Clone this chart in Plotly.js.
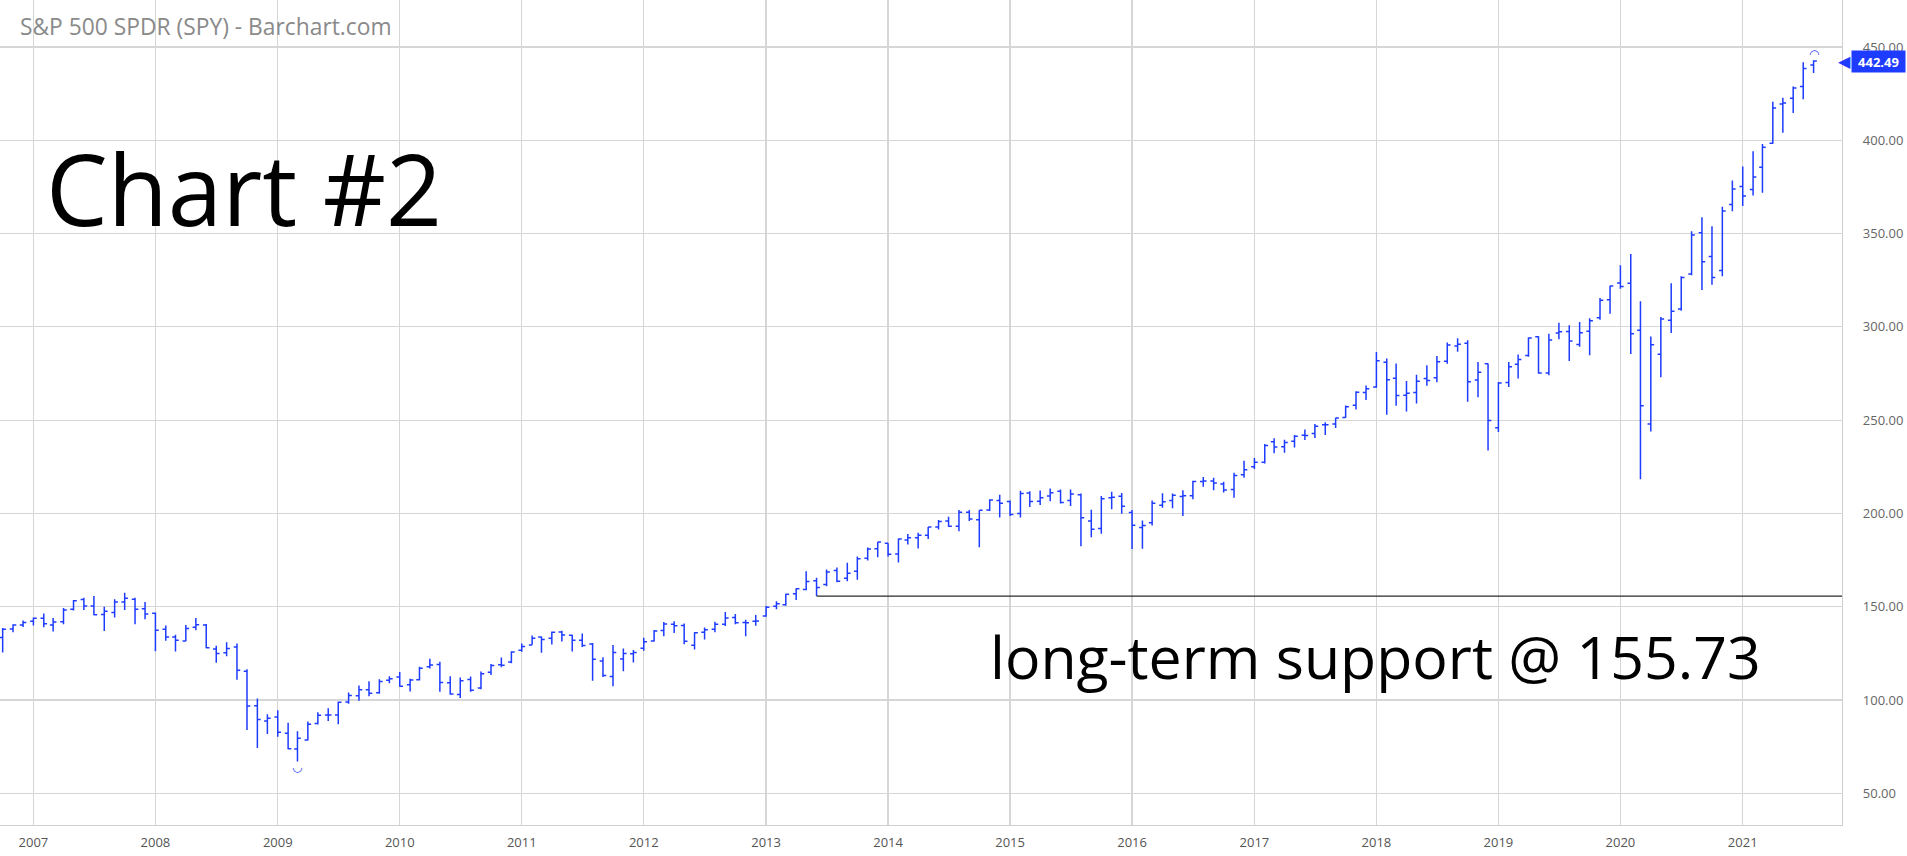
<!DOCTYPE html>
<html>
<head>
<meta charset="utf-8">
<script src="https://cdn.plot.ly/plotly-3.0.1.min.js"></script>
<style>
  html, body { margin: 0; padding: 0; background: #fff; }
  #chart { width: 1907px; height: 856px; }
</style>
</head>
<body>
<div id="chart"></div>
<script>
// ---- Data: SPY monthly bars, Oct 2006 - Aug 2021 ----
const months = [
  "2006-10","2006-11","2006-12",
  "2007-01","2007-02","2007-03","2007-04","2007-05","2007-06","2007-07","2007-08","2007-09","2007-10","2007-11","2007-12",
  "2008-01","2008-02","2008-03","2008-04","2008-05","2008-06","2008-07","2008-08","2008-09","2008-10","2008-11","2008-12",
  "2009-01","2009-02","2009-03","2009-04","2009-05","2009-06","2009-07","2009-08","2009-09","2009-10","2009-11","2009-12",
  "2010-01","2010-02","2010-03","2010-04","2010-05","2010-06","2010-07","2010-08","2010-09","2010-10","2010-11","2010-12",
  "2011-01","2011-02","2011-03","2011-04","2011-05","2011-06","2011-07","2011-08","2011-09","2011-10","2011-11","2011-12",
  "2012-01","2012-02","2012-03","2012-04","2012-05","2012-06","2012-07","2012-08","2012-09","2012-10","2012-11","2012-12",
  "2013-01","2013-02","2013-03","2013-04","2013-05","2013-06","2013-07","2013-08","2013-09","2013-10","2013-11","2013-12",
  "2014-01","2014-02","2014-03","2014-04","2014-05","2014-06","2014-07","2014-08","2014-09","2014-10","2014-11","2014-12",
  "2015-01","2015-02","2015-03","2015-04","2015-05","2015-06","2015-07","2015-08","2015-09","2015-10","2015-11","2015-12",
  "2016-01","2016-02","2016-03","2016-04","2016-05","2016-06","2016-07","2016-08","2016-09","2016-10","2016-11","2016-12",
  "2017-01","2017-02","2017-03","2017-04","2017-05","2017-06","2017-07","2017-08","2017-09","2017-10","2017-11","2017-12",
  "2018-01","2018-02","2018-03","2018-04","2018-05","2018-06","2018-07","2018-08","2018-09","2018-10","2018-11","2018-12",
  "2019-01","2019-02","2019-03","2019-04","2019-05","2019-06","2019-07","2019-08","2019-09","2019-10","2019-11","2019-12",
  "2020-01","2020-02","2020-03","2020-04","2020-05","2020-06","2020-07","2020-08","2020-09","2020-10","2020-11","2020-12",
  "2021-01","2021-02","2021-03","2021-04","2021-05","2021-06","2021-07","2021-08"
];
const open = [
  133.6,138.1,140.2,
  142.2,143.9,140.3,142.0,148.7,153.9,150.4,145.9,147.0,152.6,154.1,148.9,
  146.5,138.0,133.8,131.7,139.0,140.2,127.4,125.4,128.5,115.5,96.9,88.8,
  90.9,82.2,73.8,78.6,87.5,92.0,92.0,99.0,102.3,105.6,103.9,110.6,
  112.4,108.2,110.9,117.8,119.1,109.3,103.0,111.0,106.5,114.9,119.0,120.4,
  126.7,129.5,133.8,133.1,136.5,134.8,132.1,130.0,121.0,112.7,122.0,124.8,
  127.8,131.7,137.3,140.6,140.0,129.4,136.4,138.0,140.6,144.2,141.6,142.3,
  145.1,150.3,151.1,157.0,159.3,164.0,161.9,169.4,165.3,169.0,176.0,181.1,
  184.0,178.3,185.8,187.0,188.4,192.8,196.0,193.1,200.6,196.7,201.9,207.0,
  206.4,200.0,211.0,206.6,209.4,211.9,207.0,210.0,196.0,192.0,208.4,209.3,
  200.5,192.5,195.0,204.4,206.9,209.1,209.5,217.2,217.4,215.8,212.9,220.7,
  225.0,227.5,238.4,235.8,238.7,241.9,242.9,247.5,247.9,251.5,258.0,264.8,
  267.8,281.1,272.5,263.4,264.8,272.4,272.8,281.6,289.8,291.2,271.6,280.3,
  246.0,270.2,280.0,284.7,294.7,275.3,296.7,297.6,290.6,297.7,304.9,314.6,
  323.5,323.4,298.2,248.0,285.3,303.6,309.6,328.3,350.4,337.7,330.2,365.6,
  375.3,373.7,385.6,398.4,419.4,422.6,428.9,440.3
];
const high = [
  138.6,140.6,142.7,
  144.2,146.4,144.0,149.3,153.6,154.9,155.8,150.0,154.0,157.5,154.8,152.5,
  147.0,140.0,135.0,140.2,144.0,140.8,129.1,131.0,130.3,116.5,100.9,92.4,
  94.5,87.8,83.3,88.5,93.5,95.6,99.2,104.0,107.8,110.1,111.2,112.8,
  115.1,111.4,117.9,122.1,120.5,112.8,112.1,112.7,115.3,119.4,122.8,126.2,
  130.3,134.6,134.1,136.8,137.2,135.0,135.7,130.6,123.0,129.5,127.6,126.9,
  133.4,137.5,141.8,142.2,141.0,136.3,138.9,142.0,147.2,146.1,143.0,145.6,
  150.4,152.9,157.0,160.0,169.1,165.5,170.0,171.0,173.6,176.9,181.8,184.7,
  184.1,186.6,189.0,189.7,192.8,196.5,198.3,201.9,201.9,201.8,207.6,210.0,
  206.9,212.2,211.9,212.3,213.4,212.8,212.9,210.7,202.0,209.4,211.6,211.0,
  201.9,196.2,206.9,210.9,210.7,212.5,217.5,219.6,219.2,217.0,221.8,228.3,
  229.7,237.3,240.3,239.5,242.1,245.0,248.0,248.9,251.3,257.9,265.5,268.6,
  286.6,283.1,280.4,271.0,274.3,279.5,284.4,291.7,293.9,292.9,281.2,280.4,
  270.5,281.2,285.2,294.5,295.0,296.3,302.2,300.9,302.6,304.6,315.5,322.1,
  333.0,339.1,313.8,294.9,305.3,323.4,327.2,351.3,358.8,354.0,364.4,378.5,
  385.9,394.2,398.0,420.7,422.8,428.8,441.8,442.9
];
const low = [
  125.5,136.4,139.2,
  140.0,139.0,136.8,140.7,148.0,148.3,145.5,137.0,144.3,148.3,140.6,143.3,
  126.2,131.8,126.1,131.5,137.4,127.8,120.0,123.5,110.9,84.0,74.3,81.8,
  80.3,73.6,67.1,78.3,86.9,88.8,87.0,98.0,99.6,102.1,103.4,109.0,
  107.2,104.6,110.5,116.9,104.4,102.9,101.1,104.4,105.8,113.5,117.6,119.7,
  125.9,129.7,125.3,129.8,131.4,126.0,128.5,110.3,112.4,107.4,115.5,120.2,
  126.4,131.4,134.2,135.9,129.9,127.1,132.4,136.4,139.7,140.6,134.2,139.8,
  144.7,148.7,150.6,153.6,158.9,155.73,161.0,163.1,163.7,164.5,174.8,176.6,
  176.9,173.7,183.4,181.3,186.3,191.4,192.9,190.5,196.0,181.9,201.4,197.9,
  198.6,197.9,203.5,204.5,206.6,205.3,204.0,182.4,187.3,189.1,202.3,199.8,
  181.0,181.1,193.5,203.1,202.8,198.7,207.6,214.3,212.4,211.2,208.4,219.2,
  223.9,226.8,232.3,232.5,235.4,239.4,240.5,242.0,245.8,251.3,255.7,260.8,
  267.4,252.9,257.8,254.7,259.0,268.5,270.3,280.3,286.7,259.9,262.3,233.8,
  243.7,267.8,272.4,284.0,274.9,274.1,293.4,281.7,289.3,284.8,303.9,307.1,
  320.4,285.5,218.3,243.9,273.0,296.7,308.6,327.7,319.8,322.6,327.2,362.0,
  364.8,370.4,371.9,398.2,404.0,414.7,422.0,436.1
];
const close = [
  137.9,140.3,141.6,
  143.8,140.9,141.9,148.3,153.3,150.4,145.7,147.6,152.6,154.6,148.7,146.2,
  137.4,133.8,132.0,138.3,140.4,128.0,125.0,127.7,116.0,96.8,89.6,90.2,
  82.8,73.9,79.5,87.0,91.9,92.0,98.8,102.5,105.6,103.6,110.0,111.4,
  107.4,110.7,117.0,118.8,109.4,103.2,110.3,105.3,114.1,118.5,118.6,125.8,
  128.7,133.2,132.5,136.3,134.9,132.0,129.3,121.9,113.2,125.5,125.0,125.5,
  131.3,137.0,140.8,139.9,131.5,136.1,137.7,140.6,144.0,141.4,141.5,142.4,
  149.7,151.6,156.7,159.7,163.5,160.4,168.7,163.7,168.0,175.8,181.0,184.7,
  178.2,186.3,187.0,188.3,192.7,195.7,193.1,200.7,197.0,201.7,207.2,205.5,
  199.5,210.7,206.4,208.5,211.1,205.9,210.5,197.7,191.6,207.9,208.7,203.9,
  193.7,193.6,205.5,206.3,209.8,209.5,217.1,217.4,216.3,212.6,220.4,223.5,
  227.5,236.5,235.7,238.1,241.4,241.8,246.8,247.5,251.2,257.2,265.0,266.9,
  281.9,271.7,263.2,264.5,270.9,271.3,281.3,290.3,290.7,270.6,275.7,249.9,
  269.9,278.7,282.5,294.0,275.3,293.0,297.4,292.5,296.8,303.3,314.3,321.9,
  321.7,296.3,257.8,290.5,304.3,308.4,326.5,349.3,334.9,326.5,362.1,373.9,
  370.1,380.4,396.3,417.3,420.0,428.1,438.5,442.49
];

const supportStart = "2013-06";
const supportLevel = 155.73;
const yTickValues = [50, 100, 150, 200, 250, 300, 350, 400, 450];

const titleText = "S&amp;P 500 SPDR (SPY) - Barchart.com";
const chartLabel = "Chart #2";
const supportLabel = "long-term support @ 155.73";

// ---- Styling ----
const BLUE = "#1e3cff";
const FONT = "Open Sans, Noto Sans, DejaVu Sans, sans-serif";
const X_RANGE = ["2006-09-23", "2021-10-25"];
const Y_RANGE = [33.05, 475.2];
const W = 1907, H = 856;
const M = { l: 0, r: 65, t: 0, b: 31 };
const PW = W - M.l - M.r, PH = H - M.t - M.b;

const dates = months.map(m => m + "-01");

// extreme marks
let iLow = 0, iHigh = 0;
low.forEach((v, i) => { if (v < low[iLow]) iLow = i; });
high.forEach((v, i) => { if (v > high[iHigh]) iHigh = i; });
const lastClose = close[close.length - 1];

const bars = {
  type: "ohlc",
  x: dates, open: open, high: high, low: low, close: close,
  increasing: { line: { color: BLUE, width: 1.5 } },
  decreasing: { line: { color: BLUE, width: 1.5 } },
  tickwidth: 0.35,
  hoverinfo: "skip",
  showlegend: false
};

const supportTrace = {
  type: "scatter", mode: "lines",
  x: [supportStart + "-01", X_RANGE[1]],
  y: [supportLevel, supportLevel],
  line: { color: "#2a2a2a", width: 1.2 },
  hoverinfo: "skip", showlegend: false
};

const layout = {
  width: W, height: H,
  margin: M,
  paper_bgcolor: "#ffffff",
  plot_bgcolor: "#ffffff",
  font: { family: FONT, color: "#555" },
  showlegend: false,
  hovermode: false,
  xaxis: {
    type: "date",
    range: X_RANGE,
    rangeslider: { visible: false },
    showgrid: true, gridcolor: "#d6d6d6", gridwidth: 1.2,
    tick0: "2007-01-01", dtick: "M12", tickformat: "%Y",
    ticks: "", ticklabelstandoff: 5,
    tickfont: { family: FONT, size: 13, color: "#555" },
    showline: true, linecolor: "#cfcfcf", linewidth: 1.2,
    zeroline: false, fixedrange: true
  },
  yaxis: {
    side: "right",
    range: Y_RANGE,
    tickmode: "array", tickvals: yTickValues,
    ticktext: yTickValues.map(v => v.toFixed(2)),
    showgrid: true, gridcolor: "#d6d6d6", gridwidth: 1.2,
    ticks: "", ticklabelstandoff: 17,
    tickfont: { family: FONT, size: 13, color: "#666" },
    showline: true, linecolor: "#cfcfcf", linewidth: 1.2,
    zeroline: false, fixedrange: true
  },
  annotations: [
    {
      text: titleText, xref: "paper", yref: "paper",
      x: 18 / PW, y: 1 - 27 / PH, xanchor: "left", yanchor: "middle",
      showarrow: false, font: { family: FONT, size: 22.8, color: "#8a8a8a" }
    },
    {
      text: chartLabel, xref: "paper", yref: "paper",
      x: 44 / PW, y: 1 - 188 / PH, xanchor: "left", yanchor: "middle",
      showarrow: false, font: { family: FONT, size: 98, color: "#000" }
    },
    {
      text: supportLabel, xref: "paper", yref: "paper",
      x: 1375 / PW, y: 1 - 656 / PH, xanchor: "center", yanchor: "middle",
      showarrow: false, font: { family: FONT, size: 59, color: "#000" }
    },
    {
      text: "<b>" + lastClose.toFixed(2) + "</b>", xref: "paper", yref: "y",
      x: 1851 / PW, y: lastClose, xanchor: "left", yanchor: "middle",
      showarrow: false, bgcolor: BLUE, borderpad: 3,
      width: 47, height: 15,
      font: { family: FONT, size: 13, color: "#fff" }
    },
    {
      text: "\u25C0", xref: "paper", yref: "y",
      x: 1853 / PW, y: lastClose, xanchor: "right", yanchor: "middle",
      showarrow: false, font: { family: "DejaVu Sans", size: 16, color: BLUE }
    },
    {
      text: "\u25E1", xref: "x", yref: "y",
      x: dates[iLow], y: low[iLow], yshift: -6, xanchor: "center", yanchor: "middle",
      showarrow: false, font: { family: "DejaVu Sans", size: 12, color: BLUE }
    },
    {
      text: "\u25E0", xref: "x", yref: "y",
      x: dates[iHigh], y: high[iHigh], yshift: 6, xanchor: "center", yanchor: "middle",
      showarrow: false, font: { family: "DejaVu Sans", size: 12, color: BLUE }
    }
  ]
};

Plotly.newPlot("chart", [bars, supportTrace], layout, { displayModeBar: false, staticPlot: true });
</script>
</body>
</html>
